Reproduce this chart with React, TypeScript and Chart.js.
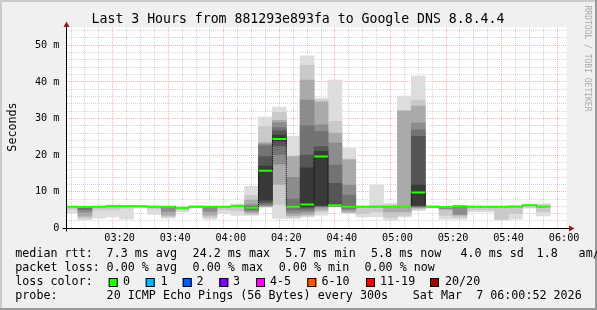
import { useEffect, useRef } from 'react';
import { Chart, registerables } from 'chart.js';

Chart.register(...registerables);

// ---------- data ----------
const slotTimes = [
  '03:00', '03:05', '03:10', '03:15', '03:20', '03:25', '03:30', '03:35', '03:40', '03:45', '03:50', '03:55',
  '04:00', '04:05', '04:10', '04:15', '04:20', '04:25', '04:30', '04:35', '04:40', '04:45', '04:50', '04:55',
  '05:00', '05:05', '05:10', '05:15', '05:20', '05:25', '05:30', '05:35', '05:40', '05:45', '05:50', '05:55',
];

// median rtt per 5-minute slot (ms)
const medianMs: (number | null)[] = [
  5.9, 5.8, 5.9, 6.0, 6.1, 6.0, 5.9, 5.9, 5.5, 5.9, 5.9, 5.9,
  6.1, 5.6, 15.7, 24.4, 5.9, 6.5, 19.6, 6.3, 5.9, 5.9, 5.9, 5.9,
  5.9, 9.8, 5.9, 5.8, 6.1, 5.9, 5.9, 5.9, 5.9, 6.3, 5.9, null,
];

// smoke bands (outermost = lightest), [low, high] in ms
const band1: ([number, number] | null)[] = [
  [4.2, 6.1], [2.2, 6.1], [2.8, 6.1], [3.1, 6.4], [2.5, 6.3], [5.6, 6.3], [3.8, 6.1], [2.8, 6.1], [4.5, 6.1], [5.6, 6.2], [2.5, 6.1], [3.9, 6.1],
  [3.5, 6.6], [3.5, 11.5], [5.7, 30.4], [2.7, 33.1], [2.7, 25.1], [3.1, 47.1], [3.6, 35.6], [6.1, 40.5], [4.0, 21.9], [3.1, 6.2], [3.2, 11.8], [2.2, 6.8],
  [3.1, 36.1], [4.8, 41.6], [5.5, 6.2], [2.5, 6.0], [2.5, 6.3], [4.5, 6.1], [4.5, 6.1], [2.2, 6.1], [2.5, 6.3], [5.5, 6.6], [3.4, 6.7], null,
];
const band2: ([number, number] | null)[] = [
  [5.2, 6.0], [2.8, 6.0], [5.0, 6.0], [5.0, 6.3], [5.5, 6.2], [5.8, 6.2], [5.2, 6.0], [3.2, 6.0], [5.0, 5.9], [5.8, 6.1], [3.0, 6.0], [5.0, 6.0],
  [4.8, 6.4], [3.8, 9.0], [5.9, 27.8], [6.5, 31.7], [3.0, 19.8], [3.4, 44.5], [4.5, 35.0], [6.1, 29.2], [4.2, 19.0], [4.0, 6.0], [4.5, 6.3], [3.0, 6.4],
  [3.5, 32.2], [5.2, 35.0], [5.7, 6.1], [3.5, 5.9], [3.0, 6.2], [5.0, 6.0], [5.0, 6.0], [2.5, 6.0], [4.0, 6.2], [5.8, 6.4], [4.5, 6.5], null,
];
const band3: Record<string, [number, number]> = {
  '03:05': [3.3, 5.9], '03:35': [3.6, 6.0], '03:50': [3.6, 6.0], '04:05': [4.2, 7.7], '04:10': [6.0, 23.4],
  '04:15': [12.0, 29.5], '04:20': [3.5, 19.6], '04:25': [3.8, 40.5], '04:30': [5.0, 34.5], '04:35': [6.1, 26.0],
  '04:40': [4.5, 18.7], '04:55': [4.5, 6.1], '05:00': [4.5, 32.0], '05:05': [5.5, 33.4], '05:15': [5.2, 5.9], '05:20': [3.6, 6.1],
};
const band4: Record<string, [number, number]> = {
  '03:05': [4.4, 5.8], '03:35': [4.6, 5.9], '03:50': [4.6, 5.9], '04:05': [4.7, 6.5], '04:10': [6.2, 23.0],
  '04:15': [17.5, 28.9], '04:20': [4.2, 13.9], '04:25': [4.5, 35.0], '04:30': [5.8, 28.3], '04:35': [6.1, 23.3],
  '04:40': [5.0, 11.8], '05:05': [5.8, 28.8], '05:15': [5.3, 5.9], '05:20': [3.8, 6.0],
};
const band5: Record<string, [number, number]> = {
  '03:05': [5.1, 5.8], '04:05': [5.0, 6.0], '04:10': [6.5, 22.5], '04:15': [20.2, 27.5], '04:20': [5.0, 8.0],
  '04:25': [5.0, 28.0], '04:30': [6.0, 26.5], '04:35': [6.1, 17.3], '04:40': [5.4, 9.1], '05:05': [6.0, 26.9],
};
const band6: Record<string, [number, number]> = {
  '04:10': [7.0, 19.6], '04:15': [22.5, 26.6], '04:25': [5.6, 20.0], '04:30': [6.1, 22.3], '04:35': [6.1, 12.3], '05:05': [6.1, 25.1],
};
const band7: Record<string, [number, number]> = {
  '04:10': [7.7, 17.0], '04:15': [23.9, 25.5], '04:25': [6.0, 16.5], '04:30': [6.3, 21.0], '05:05': [6.3, 11.8],
};

const xTickLabels = ['03:20', '03:40', '04:00', '04:20', '04:40', '05:00', '05:20', '05:40', '06:00'];
const yTickLabels = ['0', '10 m', '20 m', '30 m', '40 m', '50 m'];
const lossLabels = ['0', '1', '2', '3', '4-5', '6-10', '11-19', '20/20'];
const lossColors = ['#26ff00', '#00b8ff', '#0059ff', '#7e00ff', '#ff00ff', '#ff5500', '#ff0000', '#a10000'];

const titleText = 'Last 3 Hours from 881293e893fa to Google DNS 8.8.4.4';
const rttLine = ['median rtt:', '7.3 ms avg', '24.2 ms max', '5.7 ms min', '5.8 ms now', '4.0 ms sd', '1.8', 'am/s'];
const lossLine = ['packet loss:', '0.00 % avg', '0.00 % max', '0.00 % min', '0.00 % now'];
const probeLine = ['probe:', '20 ICMP Echo Pings (56 Bytes) every 300s', 'Sat Mar  7 06:00:52 2026'];
const watermark = 'RRDTOOL / TOBI OETIKER';

// ---------- styles / layout ----------
const MONO = '"DejaVu Sans Mono", monospace';
const SMOKE_COLORS = ['#dddddd', '#c9c9c9', '#aaaaaa', '#8c8c8c', '#737373', '#555555', '#393939'];
const MEDIAN_COLOR = '#26ff00';
const MAJOR_GRID = 'rgba(255,0,0,0.3)';
const MINOR_GRID = 'rgba(0,0,0,0.16)';
const X_MIN = 52 / 60; // 03:00:52
const X_MAX = 180 + 52 / 60; // 06:00:52
const RTT_X = [15.3, 106.6, 192.6, 285.3, 371, 460.5, 536.6, 578.6];
const LOSS_X = [15.3, 106.6, 192.6, 278.8, 364.5];
const PROBE_X = [15.3, 106.6, 412.8];
const BOX_X = [108.7, 145.7, 182.7, 219.3, 256, 307.3, 366, 430];
const BOX_LABEL_X = [123, 160.5, 196.5, 233, 270, 321.5, 380, 445];

function slotCenter(t: string) {
  const [h, m] = t.split(':').map(Number);
  return (h - 3) * 60 + m + 2.5;
}

const decorPlugin = {
  id: 'decor',
  beforeDraw(chart: any) {
    const { ctx, chartArea: ca } = chart;
    ctx.save();
    ctx.fillStyle = '#f0f0f0';
    ctx.fillRect(0, 0, chart.width, chart.height);
    ctx.fillStyle = '#ffffff';
    ctx.fillRect(ca.left, ca.top, ca.right - ca.left, ca.bottom - ca.top);
    ctx.restore();
  },
  afterDraw(chart: any) {
    const { ctx, chartArea: ca } = chart;
    const W = chart.width;
    const H = chart.height;
    ctx.save();
    // frame
    ctx.fillStyle = '#cbcbcb';
    ctx.fillRect(0, 0, W, 2);
    ctx.fillRect(0, 0, 2, H);
    ctx.fillStyle = '#999999';
    ctx.fillRect(0, H - 2, W, 2);
    ctx.fillRect(W - 2, 0, 2, H);

    // axes
    const ax = Math.floor(ca.left) + 0.5;
    const ay = Math.floor(ca.bottom) + 0.5;
    ctx.strokeStyle = '#000';
    ctx.lineWidth = 1;
    ctx.beginPath();
    ctx.moveTo(ca.left - 4, ay);
    ctx.lineTo(ca.right + 3, ay);
    ctx.moveTo(ax, ay + 3);
    ctx.lineTo(ax, ca.top - 3);
    ctx.stroke();
    ctx.fillStyle = '#9b1515';
    ctx.beginPath();
    ctx.moveTo(ca.right + 8, ay);
    ctx.lineTo(ca.right + 2.5, ay - 3);
    ctx.lineTo(ca.right + 2.5, ay + 3);
    ctx.closePath();
    ctx.fill();
    ctx.beginPath();
    ctx.moveTo(ax, ca.top - 5.5);
    ctx.lineTo(ax - 3, ca.top);
    ctx.lineTo(ax + 3, ca.top);
    ctx.closePath();
    ctx.fill();

    // title
    ctx.fillStyle = '#000';
    ctx.textBaseline = 'alphabetic';
    ctx.textAlign = 'center';
    ctx.font = `13.2px ${MONO}`;
    ctx.fillText(titleText, 298, 23);

    // y axis title
    ctx.save();
    ctx.font = `11.7px ${MONO}`;
    ctx.translate(15.5, 127);
    ctx.rotate(-Math.PI / 2);
    ctx.fillText('Seconds', 0, 0);
    ctx.restore();

    // watermark
    ctx.save();
    ctx.font = `8px ${MONO}`;
    ctx.fillStyle = '#a8a8a8';
    ctx.translate(585, 58.5);
    ctx.rotate(Math.PI / 2);
    ctx.fillText(watermark, 0, 0);
    ctx.restore();

    // legend
    ctx.textAlign = 'left';
    ctx.font = `11.7px ${MONO}`;
    ctx.fillStyle = '#000';
    rttLine.forEach((s, i) => ctx.fillText(s, RTT_X[i], 257.3));
    lossLine.forEach((s, i) => ctx.fillText(s, LOSS_X[i], 271.3));
    ctx.fillText('loss color:', 15.3, 285.3);
    lossLabels.forEach((s, i) => {
      ctx.fillStyle = lossColors[i];
      ctx.fillRect(BOX_X[i], 278, 9, 9);
      ctx.strokeStyle = '#000';
      ctx.strokeRect(BOX_X[i] + 0.5, 278.5, 8, 8);
      ctx.fillStyle = '#000';
      ctx.fillText(s, BOX_LABEL_X[i], 285.3);
    });
    probeLine.forEach((s, i) => ctx.fillText(s, PROBE_X[i], 299.3));
    ctx.restore();
  },
};

export default function App() {
  const ref = useRef<HTMLCanvasElement>(null);

  useEffect(() => {
    document.body.style.margin = '0';
    const canvas = ref.current;
    if (!canvas) return;

    const bands: any[] = [band1, band2, band3, band4, band5, band6, band7];
    const smokeSets = bands.map((b, k) => {
      const pts: any[] = [];
      slotTimes.forEach((t, i) => {
        const r = Array.isArray(b) ? b[i] : b[t];
        if (r) pts.push({ x: slotCenter(t), y: [r[0], r[1]] });
      });
      return {
        type: 'bar',
        data: pts,
        backgroundColor: SMOKE_COLORS[k],
        borderWidth: 0,
        grouped: false,
        barPercentage: 1,
        categoryPercentage: 1,
        order: 20 - k,
        clip: 0,
      };
    });

    const medPts: any[] = [];
    const medBars: any[] = [];
    slotTimes.forEach((t, i) => {
      const m = medianMs[i];
      if (m == null) return;
      medPts.push({ x: slotCenter(t), y: m });
      medBars.push({ x: slotCenter(t), y: [m - 0.28, m + 0.28] });
    });

    const xGrid: { value: number }[] = [];
    for (let v = 5; v <= 180; v += 5) xGrid.push({ value: v });
    const yGrid: { value: number }[] = [];
    for (let v = 0; v <= 54; v += 2) yGrid.push({ value: v });

    const chart = new Chart(canvas, {
      type: 'bar',
      data: {
        datasets: [
          ...smokeSets,
          {
            type: 'line',
            data: medPts,
            stepped: 'middle',
            borderColor: '#000',
            borderWidth: 1,
            borderDash: [1, 1],
            pointRadius: 0,
            fill: false,
            order: 2,
            clip: 0,
          },
          {
            type: 'bar',
            data: medBars,
            backgroundColor: MEDIAN_COLOR,
            borderWidth: 0,
            grouped: false,
            barPercentage: 1,
            categoryPercentage: 1,
            inflateAmount: 0,
            order: 1,
            clip: 0,
          },
        ] as any,
      },
      options: {
        responsive: false,
        devicePixelRatio: 1,
        animation: false,
        events: [],
        layout: { padding: { left: 0, top: 27, right: 30.5, bottom: 0 } },
        plugins: { legend: { display: false }, tooltip: { enabled: false }, title: { display: false } },
        scales: {
          x: {
            type: 'linear',
            min: X_MIN,
            max: X_MAX,
            offset: false,
            afterBuildTicks: (axis: any) => {
              axis.ticks = xGrid.map((t) => ({ ...t }));
            },
            afterFit: (s: any) => {
              s.height = 310 - 228.3;
            },
            grid: {
              drawTicks: false,
              lineWidth: 1,
              color: (c: any) => (c.tick && c.tick.value % 20 === 0 ? MAJOR_GRID : MINOR_GRID),
            },
            border: { display: false, dash: [1, 1] },
            ticks: {
              autoSkip: false,
              maxRotation: 0,
              minRotation: 0,
              padding: 4,
              color: '#000',
              font: { family: MONO, size: 10.2 },
              callback: (v: any) => (v % 20 === 0 ? xTickLabels[v / 20 - 1] : ''),
            },
          },
          y: {
            type: 'linear',
            min: 0,
            max: 55,
            afterBuildTicks: (axis: any) => {
              axis.ticks = yGrid.map((t) => ({ ...t }));
            },
            afterFit: (s: any) => {
              s.width = 66.5;
            },
            grid: {
              drawTicks: false,
              lineWidth: 1,
              color: (c: any) => (c.tick && c.tick.value % 10 === 0 ? MAJOR_GRID : MINOR_GRID),
            },
            border: { display: false, dash: [1, 1] },
            ticks: {
              autoSkip: false,
              padding: 7,
              color: '#000',
              font: { family: MONO, size: 10.2 },
              callback: (v: any) => (v % 10 === 0 ? yTickLabels[v / 10] : ''),
            },
          },
        },
      } as any,
      plugins: [decorPlugin],
    });

    return () => chart.destroy();
  }, []);

  return (
    <div style={{ width: 597, height: 310 }}>
      <canvas ref={ref} width={597} height={310} style={{ display: 'block', width: 597, height: 310 }} />
    </div>
  );
}
